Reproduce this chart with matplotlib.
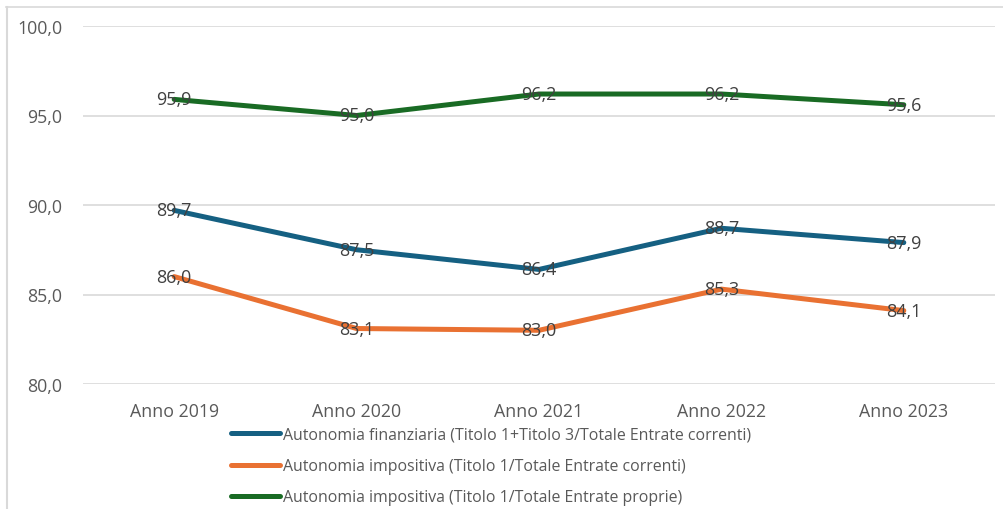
import matplotlib
matplotlib.use("Agg")
import matplotlib.pyplot as plt
from matplotlib.lines import Line2D

categories = ["Anno 2019", "Anno 2020", "Anno 2021", "Anno 2022", "Anno 2023"]
fin = [89.7, 87.5, 86.4, 88.7, 87.9]
imp_corr = [86.0, 83.1, 83.0, 85.3, 84.1]
imp_prop = [95.9, 95.0, 96.2, 96.2, 95.6]
series_names = [
    "Autonomia finanziaria (Titolo 1+Titolo 3/Totale Entrate correnti)",
    "Autonomia impositiva (Titolo 1/Totale Entrate correnti)",
    "Autonomia impositiva (Titolo 1/Totale Entrate proprie)",
]
yticks = [80, 85, 90, 95, 100]

colors = ["#156082", "#E97132", "#196B24"]
plt.rcParams['font.family'] = ['Open Sans', 'DejaVu Sans']

W, H = 1004, 510
fig = plt.figure(figsize=(W / 100, H / 100), dpi=100)
ax = fig.add_axes([83 / W, 1 - 385 / H, (995 - 83) / W, (385 - 27) / H])

x = list(range(len(categories)))
for vals, c in zip([fin, imp_corr, imp_prop], colors):
    ax.plot(x, vals, color=c, lw=3.6, solid_capstyle='round', solid_joinstyle='round', zorder=3)
    for xi, v in zip(x, vals):
        ax.text(xi, v, f"{v:.1f}".replace(".", ","), ha='center', va='center',
                fontsize=13, color='#404040', zorder=4)

ax.set_xlim(-0.5, len(categories) - 0.5)
ax.set_ylim(80, 100)
ax.set_yticks(yticks)
ax.set_yticklabels([f"{t:.1f}".replace(".", ",") for t in yticks])
ax.set_xticks(x)
ax.set_xticklabels(categories)
ax.tick_params(axis='both', length=0, labelsize=12.8, labelcolor='#595959')
ax.tick_params(axis='y', pad=15)
ax.tick_params(axis='x', pad=13)
ax.grid(axis='y', color='#D9D9D9', lw=1.2)
ax.set_axisbelow(True)
for s in ax.spines.values():
    s.set_visible(False)

# outer frame lines (top and left)
fig.add_artist(Line2D([6 / W, 1.0], [1 - 8 / H, 1 - 8 / H], color='#D9D9D9', lw=1.2, transform=fig.transFigure))
fig.add_artist(Line2D([6.5 / W, 6.5 / W], [0, 1 - 8 / H], color='#D9D9D9', lw=1.5, transform=fig.transFigure))

handles = [Line2D([0], [0], color=c, lw=3.6, solid_capstyle='round') for c in colors]
leg = fig.legend(handles, series_names, loc='upper left', bbox_to_anchor=(231 / W, 1 - 428 / H),
                 frameon=False, fontsize=11.4, handlelength=3.1, handletextpad=0.2,
                 labelspacing=0.95, borderaxespad=0, borderpad=0)
for t in leg.get_texts():
    t.set_color('#595959')

fig.savefig("out.png", dpi=100)
